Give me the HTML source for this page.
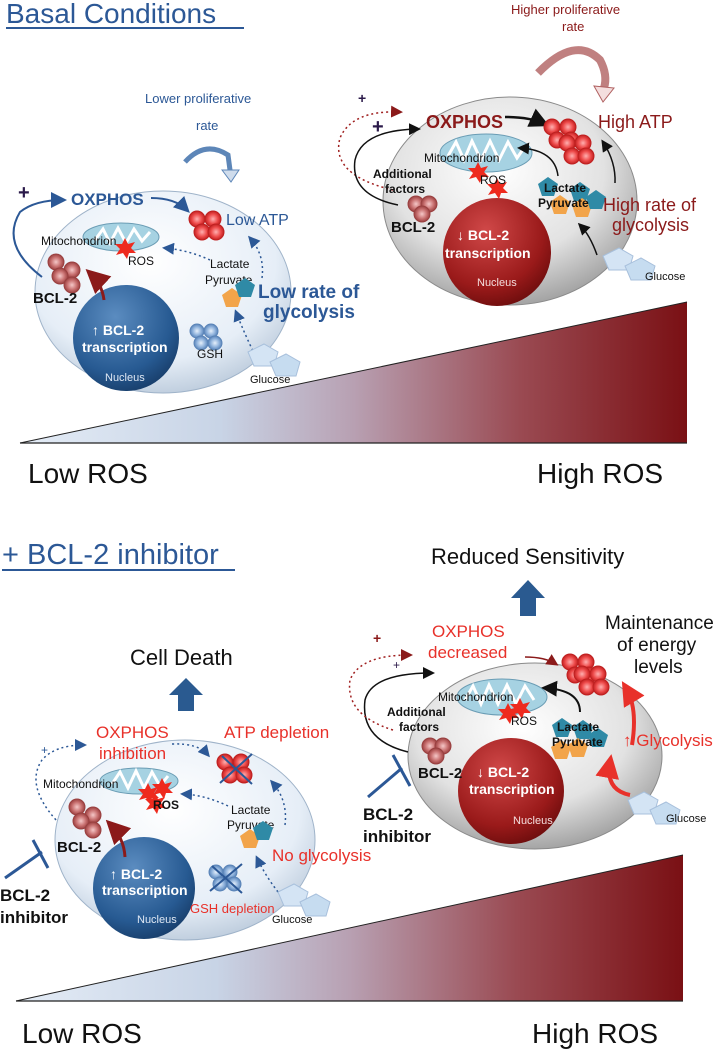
<!DOCTYPE html>
<html><head><meta charset="utf-8"><style>
html,body{margin:0;padding:0;background:#fff;}
svg{display:block;font-family:"Liberation Sans",Arial,sans-serif;}
</style></head><body>
<svg width="714" height="1050" viewBox="0 0 714 1050" xmlns="http://www.w3.org/2000/svg">
<defs>
<linearGradient id="tri" x1="0" y1="0" x2="1" y2="0">
<stop offset="0" stop-color="#e4ecf6"/><stop offset="0.3" stop-color="#c8d4e6"/><stop offset="0.5" stop-color="#b8a0b2"/><stop offset="0.75" stop-color="#9a4a52"/><stop offset="1" stop-color="#7a1014"/></linearGradient>
<radialGradient id="cellB" cx="0.45" cy="0.35" r="0.7"><stop offset="0" stop-color="#ffffff"/><stop offset="0.7" stop-color="#e6eef7"/><stop offset="1" stop-color="#b6c6d8"/></radialGradient>
<radialGradient id="cellG" cx="0.45" cy="0.35" r="0.7"><stop offset="0" stop-color="#ffffff"/><stop offset="0.6" stop-color="#e2e2e2"/><stop offset="1" stop-color="#989898"/></radialGradient>
<radialGradient id="nucB" cx="0.4" cy="0.3" r="0.75"><stop offset="0" stop-color="#5b8cc0"/><stop offset="0.7" stop-color="#275a92"/><stop offset="1" stop-color="#173c68"/></radialGradient>
<radialGradient id="nucR" cx="0.4" cy="0.3" r="0.75"><stop offset="0" stop-color="#d04848"/><stop offset="0.7" stop-color="#9a1a1a"/><stop offset="1" stop-color="#6a0c0c"/></radialGradient>
<radialGradient id="atp" cx="0.5" cy="0.5" r="0.5"><stop offset="0" stop-color="#ffb0b0"/><stop offset="0.6" stop-color="#ee4b4b"/><stop offset="1" stop-color="#c02020"/></radialGradient>
<radialGradient id="bcl" cx="0.5" cy="0.5" r="0.5"><stop offset="0" stop-color="#f5c8c8"/><stop offset="0.6" stop-color="#c87070"/><stop offset="1" stop-color="#9a4040"/></radialGradient>
<radialGradient id="gsh" cx="0.5" cy="0.5" r="0.5"><stop offset="0" stop-color="#e6f0fb"/><stop offset="0.6" stop-color="#8fb2dc"/><stop offset="1" stop-color="#5a84b8"/></radialGradient>
<marker id="ab" markerWidth="8" markerHeight="8" refX="6" refY="4" orient="auto"><path d="M0,0 L8,4 L0,8z" fill="#2c5896"/></marker>
<marker id="ak" markerWidth="8" markerHeight="8" refX="6" refY="4" orient="auto"><path d="M0,0 L8,4 L0,8z" fill="#111"/></marker>
<marker id="ar" markerWidth="8" markerHeight="8" refX="6" refY="4" orient="auto"><path d="M0,0 L8,4 L0,8z" fill="#8b1a1a"/></marker>
<marker id="arr" markerWidth="6" markerHeight="6" refX="4" refY="3" orient="auto"><path d="M0,0 L6,3 L0,6z" fill="#e8312a"/></marker>
<g id="atpc"><circle cx="-8" cy="-6" r="8" fill="url(#atp)" stroke="#c02020"/><circle cx="8" cy="-6" r="8" fill="url(#atp)" stroke="#c02020"/><circle cx="-3" cy="7" r="8" fill="url(#atp)" stroke="#c02020"/><circle cx="11" cy="7" r="8" fill="url(#atp)" stroke="#c02020"/></g>
<g id="bclc"><circle cx="-8" cy="-10" r="8" fill="url(#bcl)" stroke="#9a4040"/><circle cx="8" cy="-2" r="8" fill="url(#bcl)" stroke="#9a4040"/><circle cx="-4" cy="4" r="8" fill="url(#bcl)" stroke="#9a4040"/><circle cx="8" cy="13" r="8" fill="url(#bcl)" stroke="#9a4040"/></g>
<g id="bcls"><circle cx="-6" cy="-4" r="8" fill="url(#bcl)" stroke="#9a4040"/><circle cx="7" cy="-4" r="8" fill="url(#bcl)" stroke="#9a4040"/><circle cx="0" cy="6" r="8" fill="url(#bcl)" stroke="#9a4040"/></g>
<g id="gshc"><circle cx="-8" cy="-6" r="7" fill="url(#gsh)" stroke="#5a84b8"/><circle cx="6" cy="-6" r="7" fill="url(#gsh)" stroke="#5a84b8"/><circle cx="-4" cy="6" r="7" fill="url(#gsh)" stroke="#5a84b8"/><circle cx="10" cy="6" r="7" fill="url(#gsh)" stroke="#5a84b8"/></g>
<g id="glu"><path d="M-22,-6 L-6,-14 L8,-6 L4,8 L-16,8z" fill="#d4e4f4" stroke="#a8c0dc"/><path d="M0,4 L16,-4 L30,4 L26,18 L6,18z" fill="#c6dcf0" stroke="#a8c0dc"/></g>
<g id="ros"><polygon points="0,-10 3,-4 10,-6 6,0 11,5 4,5 2,11 -2,5 -9,7 -5,1 -10,-4 -3,-4" fill="#ee2a1e"/></g>
<g id="pentB"><polygon points="0,-10 10,-3 6,9 -6,9 -10,-3" fill="#2f8aa6"/></g>
<g id="pentO"><polygon points="0,-10 10,-3 6,9 -6,9 -10,-3" fill="#f2a44a"/></g>
</defs>

<!-- ===== TOP ===== -->
<text x="6" y="23" font-size="28" fill="#2c5896">Basal Conditions</text>
<rect x="6" y="27" width="238" height="2" fill="#2c5896"/>

<polygon points="20,443 687,302 687,443" fill="url(#tri)"/>
<line x1="20" y1="443" x2="687" y2="443" stroke="#222" stroke-width="1.2"/>
<line x1="20" y1="443" x2="687" y2="302" stroke="#222" stroke-width="1"/>
<text x="28" y="483" font-size="28" fill="#111">Low ROS</text>
<text x="537" y="483" font-size="28" fill="#111">High ROS</text>

<!-- top left cell -->
<text x="145" y="103" font-size="13" fill="#2c5896">Lower proliferative</text>
<text x="196" y="130" font-size="13" fill="#2c5896">rate</text>
<path d="M185,162 Q205,140 228,155 L230,170" fill="none" stroke="#5d86b8" stroke-width="5"/>
<path d="M222,170 L231,182 L239,170z" fill="#cfdcec" stroke="#5d86b8"/>
<ellipse cx="163" cy="292" rx="128" ry="101" fill="url(#cellB)" stroke="#9fb3c9"/>
<circle cx="126" cy="338" r="53" fill="url(#nucB)"/>
<text x="92" y="335" font-size="14" font-weight="bold" fill="#fff">↑ BCL-2</text>
<text x="82" y="352" font-size="14" font-weight="bold" fill="#fff">transcription</text>
<text x="105" y="381" font-size="11" fill="#dfe8f4">Nucleus</text>
<ellipse cx="121" cy="237" rx="38" ry="14" fill="#a6d2e2" stroke="#6a9cb4"/>
<path d="M95,240 L103,229 L110,243 L118,228 L126,243 L134,229 L142,241 L150,232" fill="none" stroke="#fff" stroke-width="3"/>
<text x="41" y="245" font-size="12" fill="#111">Mitochondrion</text>
<use href="#ros" x="125" y="248"/>
<text x="128" y="265" font-size="12" fill="#111">ROS</text>
<use href="#bclc" x="64" y="272"/>
<text x="33" y="303" font-size="15" font-weight="bold" fill="#111">BCL-2</text>
<path d="M104,300 Q102,284 90,273" fill="none" stroke="#8b1a1a" stroke-width="3" marker-end="url(#ar)"/>
<path d="M42,277 Q0,245 20,212 Q35,200 63,200" fill="none" stroke="#2c5896" stroke-width="2" marker-end="url(#ab)"/>
<text x="18" y="199" font-size="20" font-weight="bold" fill="#2b1a4a">+</text>
<text x="71" y="205" font-size="17" font-weight="bold" fill="#2c5896">OXPHOS</text>
<path d="M151,198 Q175,198 187,210" fill="none" stroke="#2c5896" stroke-width="2" marker-end="url(#ab)"/>
<use href="#atpc" x="205" y="225"/>
<text x="226" y="225" font-size="16" fill="#2c5896">Low ATP</text>
<text x="210" y="268" font-size="12" fill="#111">Lactate</text>
<text x="205" y="284" font-size="12" fill="#111">Pyruvate</text>
<use href="#pentO" x="232" y="298"/><use href="#pentB" x="245" y="288"/>
<path d="M210,260 Q188,250 165,248" fill="none" stroke="#2c5896" stroke-width="1.5" stroke-dasharray="2,3" marker-end="url(#ab)"/>
<path d="M262,278 Q265,255 250,238" fill="none" stroke="#2c5896" stroke-width="1.5" stroke-dasharray="2,3" marker-end="url(#ab)"/>
<path d="M255,355 Q245,335 236,312" fill="none" stroke="#2c5896" stroke-width="1.5" stroke-dasharray="2,3" marker-end="url(#ab)"/>
<text x="258" y="298" font-size="19" font-weight="bold" fill="#2c5896">Low rate of</text>
<text x="263" y="318" font-size="19" font-weight="bold" fill="#2c5896">glycolysis</text>
<use href="#gshc" x="205" y="337"/>
<text x="197" y="358" font-size="12" fill="#111">GSH</text>
<use href="#glu" x="270" y="358"/>
<text x="250" y="383" font-size="11" fill="#111">Glucose</text>

<!-- top right cell -->
<text x="511" y="14" font-size="13" fill="#8b1a1a">Higher proliferative</text>
<text x="562" y="31" font-size="13" fill="#8b1a1a">rate</text>
<path d="M538,73 Q575,35 600,60 Q608,75 604,88" fill="none" stroke="#c08080" stroke-width="8"/>
<path d="M594,86 L603,102 L614,88z" fill="#f4dede" stroke="#b06060"/>
<ellipse cx="510" cy="201" rx="127" ry="104" fill="url(#cellG)" stroke="#8a8a8a"/>
<circle cx="497" cy="252" r="54" fill="url(#nucR)"/>
<text x="457" y="240" font-size="14" font-weight="bold" fill="#fff">↓ BCL-2</text>
<text x="445" y="258" font-size="14" font-weight="bold" fill="#fff">transcription</text>
<text x="477" y="286" font-size="11" fill="#f4dede">Nucleus</text>
<ellipse cx="486" cy="153" rx="46" ry="19" fill="#a6d2e2" stroke="#6a9cb4"/>
<path d="M448,156 L456,142 L464,160 L472,141 L481,160 L490,141 L499,160 L508,142 L517,158 L524,148" fill="none" stroke="#fff" stroke-width="3"/>
<text x="424" y="162" font-size="12" fill="#111">Mitochondrion</text>
<use href="#ros" x="478" y="172"/><use href="#ros" x="497" y="188"/>
<text x="480" y="184" font-size="12" fill="#111">ROS</text>
<path d="M393,190 Q330,175 340,138 Q352,110 400,112" fill="none" stroke="#a02020" stroke-width="1.5" stroke-dasharray="2,3" marker-end="url(#ar)"/>
<text x="358" y="103" font-size="14" font-weight="bold" fill="#2b1a4a">+</text>
<path d="M398,205 Q350,195 355,160 Q362,130 418,129" fill="none" stroke="#111" stroke-width="1.5" marker-end="url(#ak)"/>
<text x="372" y="133" font-size="20" font-weight="bold" fill="#2b1a4a">+</text>
<text x="426" y="128" font-size="18" font-weight="bold" fill="#8b1a1a">OXPHOS</text>
<path d="M505,117 Q530,117 545,124" fill="none" stroke="#111" stroke-width="2.5" marker-end="url(#ak)"/>
<use href="#atpc" x="560" y="133"/>
<use href="#atpc" x="575" y="149"/>
<text x="598" y="128" font-size="18" fill="#8b1a1a">High ATP</text>
<text x="373" y="178" font-size="12" font-weight="bold" fill="#111">Additional</text>
<text x="385" y="193" font-size="12" font-weight="bold" fill="#111">factors</text>
<use href="#bcls" x="422" y="208"/>
<text x="391" y="232" font-size="15" font-weight="bold" fill="#111">BCL-2</text>
<use href="#pentB" x="548" y="187"/><use href="#pentO" x="560" y="205"/><use href="#pentB" x="580" y="192"/><use href="#pentO" x="582" y="208"/><use href="#pentB" x="596" y="200"/>
<text x="544" y="192" font-size="12" font-weight="bold" fill="#111">Lactate</text>
<text x="538" y="207" font-size="12" font-weight="bold" fill="#111">Pyruvate</text>
<path d="M558,176 Q555,150 520,148" fill="none" stroke="#111" stroke-width="1.5" marker-end="url(#ak)"/>
<path d="M615,183 Q616,162 603,142" fill="none" stroke="#111" stroke-width="1.5" marker-end="url(#ak)"/>
<path d="M597,255 Q590,235 580,225" fill="none" stroke="#111" stroke-width="1.5" marker-end="url(#ak)"/>
<text x="603" y="211" font-size="18" fill="#8b1a1a">High rate of</text>
<text x="612" y="231" font-size="18" fill="#8b1a1a">glycolysis</text>
<use href="#glu" x="625" y="262"/>
<text x="645" y="280" font-size="11" fill="#111">Glucose</text>

<!-- ===== BOTTOM ===== -->
<text x="2" y="564" font-size="29" fill="#2c5896">+ BCL-2 inhibitor</text>
<rect x="2" y="569" width="233" height="2" fill="#2c5896"/>

<polygon points="16,1001 683,855 683,1001" fill="url(#tri)"/>
<line x1="16" y1="1001" x2="683" y2="1001" stroke="#222" stroke-width="1.2"/>
<line x1="16" y1="1001" x2="683" y2="855" stroke="#222" stroke-width="1"/>
<text x="22" y="1043" font-size="28" fill="#111">Low ROS</text>
<text x="532" y="1043" font-size="28" fill="#111">High ROS</text>

<text x="431" y="564" font-size="22" fill="#111">Reduced Sensitivity</text>
<polygon points="520,616 520,598 511,598 528,580 545,598 536,598 536,616" fill="#2a5a90"/>
<text x="130" y="665" font-size="22" fill="#111">Cell Death</text>
<polygon points="178,711 178,695 169,695 186,678 203,695 194,695 194,711" fill="#2a5a90"/>

<!-- bottom left cell -->
<ellipse cx="185" cy="840" rx="130" ry="100" fill="url(#cellB)" stroke="#9fb3c9"/>
<circle cx="144" cy="888" r="51" fill="url(#nucB)"/>
<text x="110" y="879" font-size="14" font-weight="bold" fill="#fff">↑ BCL-2</text>
<text x="102" y="895" font-size="14" font-weight="bold" fill="#fff">transcription</text>
<text x="137" y="923" font-size="11" fill="#dfe8f4">Nucleus</text>
<ellipse cx="139" cy="781" rx="39" ry="13" fill="#a6d2e2" stroke="#6a9cb4"/>
<path d="M112,784 L120,772 L128,788 L136,771 L144,788 L152,772 L160,786 L168,776" fill="none" stroke="#fff" stroke-width="3"/>
<text x="43" y="788" font-size="12" fill="#111">Mitochondrion</text>
<use href="#ros" x="148" y="793"/><use href="#ros" x="162" y="788"/><use href="#ros" x="155" y="803"/>
<text x="153" y="809" font-size="12" font-weight="bold" fill="#111">ROS</text>
<use href="#bclc" x="85" y="817"/>
<text x="57" y="852" font-size="15" font-weight="bold" fill="#111">BCL-2</text>
<path d="M125,857 Q124,838 110,824" fill="none" stroke="#8b1a1a" stroke-width="3" marker-end="url(#ar)"/>
<path d="M56,820 Q25,785 42,760 Q55,745 84,745" fill="none" stroke="#2c5896" stroke-width="1.5" stroke-dasharray="2,3" marker-end="url(#ab)"/>
<text x="41" y="754" font-size="12" fill="#2c5896">+</text>
<text x="96" y="738" font-size="17" fill="#e8312a">OXPHOS</text>
<text x="99" y="759" font-size="17" fill="#e8312a">inhibition</text>
<path d="M172,744 Q198,743 208,755" fill="none" stroke="#2c5896" stroke-width="1.5" stroke-dasharray="2,3" marker-end="url(#ab)"/>
<text x="224" y="738" font-size="17" fill="#e8312a">ATP depletion</text>
<use href="#atpc" x="233" y="768"/>
<path d="M220,783 L252,754 M222,756 L252,784" stroke="#2c5896" stroke-width="2"/>
<text x="231" y="814" font-size="12" fill="#111">Lactate</text>
<text x="227" y="829" font-size="12" fill="#111">Pyruvate</text>
<use href="#pentO" x="250" y="839"/><use href="#pentB" x="263" y="831"/>
<path d="M228,806 Q205,795 183,794" fill="none" stroke="#2c5896" stroke-width="1.5" stroke-dasharray="2,3" marker-end="url(#ab)"/>
<path d="M285,825 Q288,800 272,782" fill="none" stroke="#2c5896" stroke-width="1.5" stroke-dasharray="2,3" marker-end="url(#ab)"/>
<path d="M278,892 Q265,875 257,858" fill="none" stroke="#2c5896" stroke-width="1.5" stroke-dasharray="2,3" marker-end="url(#ab)"/>
<text x="272" y="861" font-size="17" fill="#e8312a">No glycolysis</text>
<use href="#gshc" x="224" y="878"/>
<path d="M210,891 L242,864 M212,866 L242,893" stroke="#2c5896" stroke-width="2"/>
<text x="190" y="913" font-size="13" fill="#e8312a">GSH depletion</text>
<use href="#glu" x="300" y="898"/>
<text x="272" y="923" font-size="11" fill="#111">Glucose</text>
<path d="M5,878 L42,852 M33,840 L48,868" stroke="#2c5896" stroke-width="3"/>
<text x="0" y="901" font-size="17" font-weight="bold" fill="#111">BCL-2</text>
<text x="0" y="923" font-size="17" font-weight="bold" fill="#111">inhibitor</text>

<!-- bottom right cell -->
<ellipse cx="535" cy="756" rx="127" ry="93" fill="url(#cellG)" stroke="#8a8a8a"/>
<circle cx="511" cy="791" r="53" fill="url(#nucR)"/>
<text x="477" y="777" font-size="14" font-weight="bold" fill="#fff">↓ BCL-2</text>
<text x="469" y="794" font-size="14" font-weight="bold" fill="#fff">transcription</text>
<text x="513" y="824" font-size="11" fill="#f4dede">Nucleus</text>
<ellipse cx="502" cy="697" rx="45" ry="18" fill="#a6d2e2" stroke="#6a9cb4"/>
<path d="M465,700 L473,686 L481,704 L489,685 L498,704 L507,685 L516,704 L525,686 L534,700" fill="none" stroke="#fff" stroke-width="3"/>
<text x="438" y="701" font-size="12" fill="#111">Mitochondrion</text>
<use href="#ros" x="508" y="713"/><use href="#ros" x="520" y="708"/>
<text x="511" y="725" font-size="12" fill="#111">ROS</text>
<text x="387" y="716" font-size="12" font-weight="bold" fill="#111">Additional</text>
<text x="399" y="731" font-size="12" font-weight="bold" fill="#111">factors</text>
<use href="#bcls" x="436" y="750"/>
<text x="418" y="778" font-size="15" font-weight="bold" fill="#111">BCL-2</text>
<path d="M408,752 Q360,740 365,700 Q372,673 432,673" fill="none" stroke="#111" stroke-width="1.5" marker-end="url(#ak)"/>
<path d="M393,730 Q345,715 350,680 Q360,655 410,655" fill="none" stroke="#a02020" stroke-width="1.5" stroke-dasharray="2,3" marker-end="url(#ar)"/>
<text x="393" y="669" font-size="12" fill="#2b1a4a">+</text>
<text x="373" y="643" font-size="14" font-weight="bold" fill="#8b1a1a">+</text>
<text x="432" y="637" font-size="17" fill="#e8312a">OXPHOS</text>
<text x="428" y="658" font-size="17" fill="#e8312a">decreased</text>
<path d="M525,657 Q545,657 556,664" fill="none" stroke="#8b1a1a" stroke-width="1.5" marker-end="url(#ar)"/>
<use href="#atpc" x="578" y="668"/><use href="#atpc" x="590" y="680"/>
<text x="605" y="629" font-size="19" fill="#111">Maintenance</text>
<text x="617" y="651" font-size="19" fill="#111">of energy</text>
<text x="634" y="673" font-size="19" fill="#111">levels</text>
<use href="#pentB" x="562" y="728"/><use href="#pentO" x="561" y="750"/><use href="#pentB" x="583" y="730"/><use href="#pentO" x="578" y="748"/><use href="#pentB" x="598" y="738"/>
<text x="557" y="731" font-size="12" font-weight="bold" fill="#111">Lactate</text>
<text x="552" y="746" font-size="12" font-weight="bold" fill="#111">Pyruvate</text>
<path d="M580,712 Q580,690 545,688" fill="none" stroke="#111" stroke-width="2" marker-end="url(#ak)"/>
<path d="M632,745 Q638,708 626,688" fill="none" stroke="#e8312a" stroke-width="4" marker-end="url(#arr)"/>
<path d="M630,795 Q605,790 610,762" fill="none" stroke="#e8312a" stroke-width="4" marker-end="url(#arr)"/>
<text x="623" y="746" font-size="17" fill="#e8312a">↑ Glycolysis</text>
<use href="#glu" x="650" y="806"/>
<text x="666" y="822" font-size="11" fill="#111">Glucose</text>
<path d="M368,797 L402,768 M393,755 L410,786" stroke="#2c5896" stroke-width="3"/>
<text x="363" y="820" font-size="17" font-weight="bold" fill="#111">BCL-2</text>
<text x="363" y="842" font-size="17" font-weight="bold" fill="#111">inhibitor</text>
</svg>
</body></html>
